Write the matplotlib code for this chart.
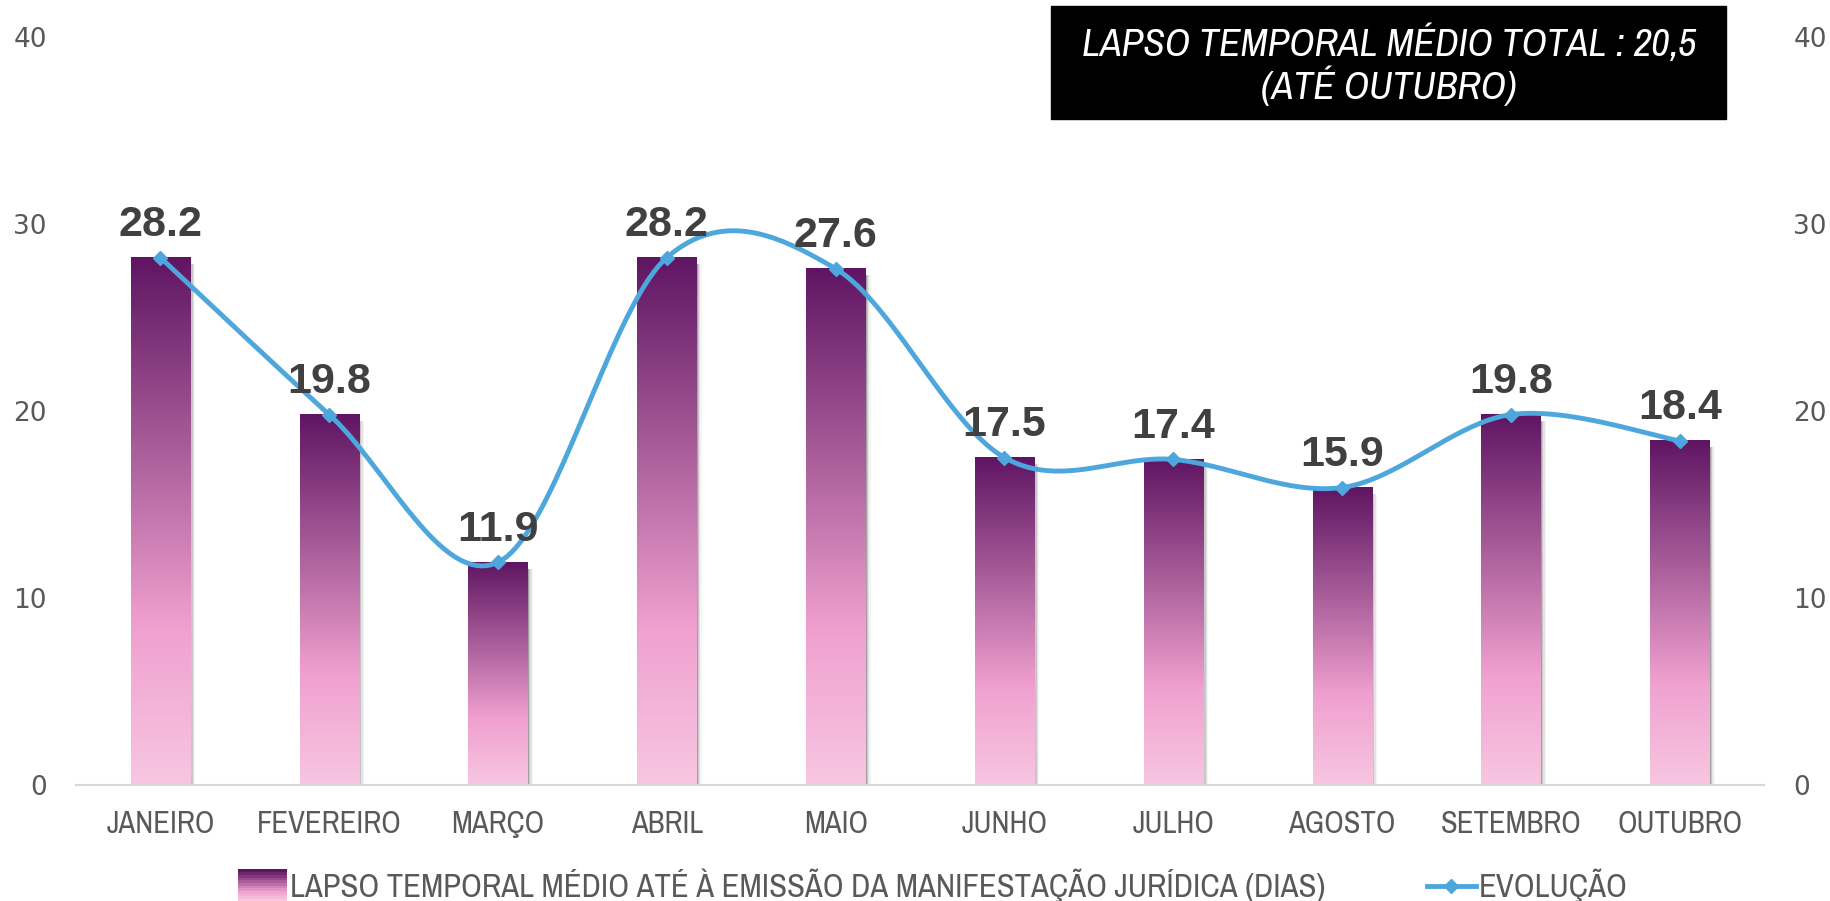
import numpy as np
import matplotlib.pyplot as plt
from matplotlib import font_manager
from matplotlib.patches import Rectangle
from matplotlib.colors import LinearSegmentedColormap
from matplotlib.legend_handler import HandlerBase
from matplotlib.lines import Line2D

meses = ['JANEIRO', 'FEVEREIRO', 'MARÇO', 'ABRIL', 'MAIO', 'JUNHO',
         'JULHO', 'AGOSTO', 'SETEMBRO', 'OUTUBRO']
lapso = [28.2, 19.8, 11.9, 28.2, 27.6, 17.5, 17.4, 15.9, 19.8, 18.4]
yticks = [0, 10, 20, 30, 40]
titulo = 'LAPSO TEMPORAL MÉDIO TOTAL : 20,5\n(ATÉ OUTUBRO)'
nome_barras = 'LAPSO TEMPORAL MÉDIO ATÉ À EMISSÃO DA MANIFESTAÇÃO JURÍDICA (DIAS)'
nome_linha = 'EVOLUÇÃO'

nomes = set(f.name for f in font_manager.fontManager.ttflist)
narrow = 'Archivo Narrow' if 'Archivo Narrow' in nomes else 'Liberation Sans'

azul = '#4da6dc'
cinza = '#595959'
grad = LinearSegmentedColormap.from_list('g', [(0, '#f7c6e1'), (0.3, '#f0a0cf'),
                                               (0.65, '#a65b98'), (1, '#5f1562')])


def smooth(x, y, n=40):
    # curva suavizada (tipo excel / catmull-rom)
    px = np.concatenate([[x[0]], x, [x[-1]]])
    py = np.concatenate([[y[0]], y, [y[-1]]])
    xs, ys = [], []
    for i in range(1, len(px) - 2):
        p0 = np.array([px[i - 1], py[i - 1]])
        p1 = np.array([px[i], py[i]])
        p2 = np.array([px[i + 1], py[i + 1]])
        p3 = np.array([px[i + 2], py[i + 2]])
        c1 = p1 + (p2 - p0) / 6
        c2 = p2 - (p3 - p1) / 6
        t = np.linspace(0, 1, n)[:, None]
        b = (1 - t) ** 3 * p1 + 3 * (1 - t) ** 2 * t * c1 + 3 * (1 - t) * t ** 2 * c2 + t ** 3 * p2
        xs.extend(b[:, 0])
        ys.extend(b[:, 1])
    return xs, ys


class GradHandler(HandlerBase):
    def create_artists(self, legend, orig, xd, yd, w, h, fs, trans):
        arts = []
        k = 12
        hh = 1.4 * h
        for i in range(k):
            r = Rectangle((xd, yd - 0.2 * h + i * hh / k), w, hh / k + 0.3,
                          color=grad(i / (k - 1)), transform=trans, lw=0)
            arts.append(r)
        return arts


fig = plt.figure(figsize=(18.31, 9.01), dpi=100)
ax = fig.add_axes([0.0415, 0.129, 0.922, 0.83])
x = np.arange(len(meses))
w = 0.35

for xi, v in zip(x, lapso):
    # sombra
    for k, a in enumerate([0.18, 0.12, 0.07, 0.04]):
        ax.add_patch(Rectangle((xi - w / 2 + 0.008 + 0.008 * k, -0.2), w, v - 0.15, color='black',
                               alpha=a, lw=0, zorder=1))
    img = np.linspace(0, 1, 256).reshape(-1, 1)
    ax.imshow(img, cmap=grad, origin='lower', aspect='auto',
              extent=[xi - w / 2, xi + w / 2, 0, v], zorder=2)
    ax.annotate(f'{v:.1f}', (xi, v), xytext=(0, 9), textcoords='offset points',
                ha='center', va='bottom', fontsize=31, fontweight='bold',
                color='#404040', family='Liberation Sans', zorder=5)

sx, sy = smooth(x.astype(float), np.array(lapso))
ax.plot(sx, sy, color=azul, lw=3.5, zorder=3)
ax.plot(x, lapso, 'D', color=azul, ms=7, zorder=4)

ax.set_xlim(-0.5, len(meses) - 0.5)
ax.set_ylim(0, 40)
ax.set_yticks(yticks)
ax.set_xticks(x)
ax.set_xticklabels(meses, family=narrow, fontsize=22, color=cinza)
ax.tick_params(axis='both', length=0)
ax.tick_params(axis='y', labelsize=19, labelcolor=cinza, pad=21)
ax.tick_params(axis='x', pad=18)
for s in ['top', 'right', 'left']:
    ax.spines[s].set_visible(False)
ax.spines['bottom'].set_color('#d9d9d9')
ax.spines['bottom'].set_linewidth(1.5)

ax2 = ax.twinx()
ax2.set_ylim(0, 40)
ax2.set_yticks(yticks)
ax2.tick_params(axis='y', length=0, labelsize=19, labelcolor=cinza, pad=21)
for s in ax2.spines.values():
    s.set_visible(False)

fig.patches.append(Rectangle((0.574, 0.868), 0.3685, 0.125, transform=fig.transFigure,
                             color='black', zorder=0))
fig.text(0.7585, 0.928, titulo, ha='center', va='center', color='white',
         fontsize=28.5, style='italic', family=narrow, linespacing=1.08)

h1 = Rectangle((0, 0), 1, 1)
h2 = Line2D([], [], color=azul, lw=3.5, marker='D', ms=7)
fig.legend([h1, h2], [nome_barras, nome_linha], loc='center', bbox_to_anchor=(0.5096, 0.017),
           ncol=2, frameon=False, handler_map={h1: GradHandler()},
           prop={'family': narrow, 'size': 23.5}, labelcolor=cinza, columnspacing=3.1,
           handlelength=1.5, handletextpad=0.1)

fig.savefig('out.png', dpi=100)
